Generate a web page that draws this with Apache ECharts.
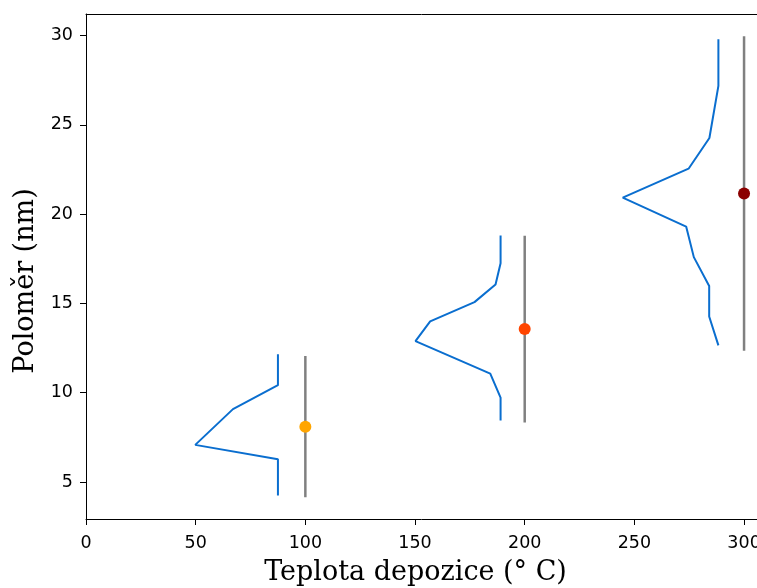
<!DOCTYPE html>
<html><head><meta charset="utf-8">
<script src="https://cdn.jsdelivr.net/npm/echarts@6/dist/echarts.min.js"></script>
<style>html,body{margin:0;padding:0;background:#fff}#c{width:757px;height:588px}</style>
</head><body><div id="c"></div>
<script>
// Data
const temps = [100, 200, 300];
const meanRadius = [8.1, 13.56, 21.15];
const radiusErr = [3.95, 5.23, 8.8];
const dotColors = ['#FFA500', '#FF4500', '#8B0000'];

const dist100 = [[87.5, 12.15], [87.5, 10.42], [67.0, 9.08], [49.8, 7.08], [87.5, 6.27], [87.5, 4.24]];
const dist200 = [[189.0, 18.8], [189.0, 17.25], [186.7, 16.06], [177.1, 15.07], [156.9, 13.99], [150.2, 12.89], [184.3, 11.07], [189.0, 9.73], [189.0, 8.45]];
const dist300 = [[288.3, 29.79], [288.3, 27.18], [284.2, 24.26], [274.7, 22.54], [244.7, 20.92], [273.6, 19.30], [277.1, 17.59], [284.1, 15.97], [284.1, 14.27], [288.3, 12.65]];

const xTicks = [0, 50, 100, 150, 200, 250, 300];
const yTicks = [5, 10, 15, 20, 25, 30];

const chart = echarts.init(document.getElementById('c'), null, {renderer: 'canvas'});

const series = [];
[dist100, dist200, dist300].forEach(d => {
  series.push({type: 'line', data: d, showSymbol: false, symbol: 'none',
    lineStyle: {color: '#0A6ECF', width: 2}, z: 2, animation: false});
});
temps.forEach((t, i) => {
  series.push({type: 'line', data: [[t, meanRadius[i] - radiusErr[i]], [t, meanRadius[i] + radiusErr[i]]],
    symbol: 'none', lineStyle: {color: '#808080', width: 2.5}, z: 3, animation: false});
  series.push({type: 'scatter', data: [[t, meanRadius[i]]], symbolSize: 12,
    itemStyle: {color: dotColors[i], opacity: 1}, z: 4, animation: false});
});

const xMin = 0, xMax = 305.9;
chart.setOption({
  animation: false,
  grid: {left: 86, right: 0, top: 14, bottom: 69, show: false, containLabel: false, outerBoundsMode: 'none'},
  xAxis: [{
    type: 'value', min: xMin, max: xMax, position: 'bottom',
    name: 'Teplota depozice (° C)', nameLocation: 'middle', nameGap: 40,
    nameTextStyle: {fontFamily: 'DejaVu Serif', fontSize: 27, color: '#000', padding: [0, 12, 0, 0]},
    axisLine: {show: true, lineStyle: {color: '#000', width: 1}},
    axisTick: {show: true, inside: false, length: 6, lineStyle: {color: '#000'}, customValues: xTicks},
    axisLabel: {customValues: xTicks, fontFamily: 'DejaVu Sans', fontSize: 17.5, color: '#000', margin: 15},
    splitLine: {show: false}
  }, {
    type: 'value', min: xMin, max: xMax, position: 'top',
    axisLine: {show: true, onZero: false, lineStyle: {color: '#000', width: 1}},
    axisTick: {show: false}, axisLabel: {show: false}, splitLine: {show: false}
  }],
  yAxis: {
    type: 'value', min: 2.93, max: 31.2,
    name: 'Poloměr (nm)', nameLocation: 'middle', nameGap: 43,
    nameTextStyle: {fontFamily: 'DejaVu Serif', fontSize: 27, color: '#000', padding: [0, 29, 0, 0]},
    axisLine: {show: true, lineStyle: {color: '#000', width: 1}},
    axisTick: {show: true, inside: false, length: 6, lineStyle: {color: '#000'}, customValues: yTicks},
    axisLabel: {customValues: yTicks, fontFamily: 'DejaVu Sans', fontSize: 17.5, color: '#000', margin: 13},
    splitLine: {show: false}
  },
  series: series
});
</script></body></html>
